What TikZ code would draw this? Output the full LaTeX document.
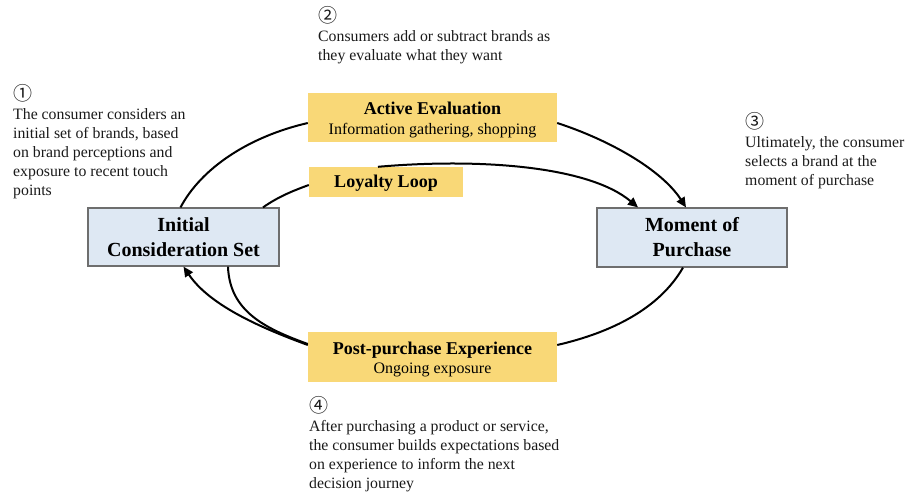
\documentclass[tikz,border=0pt]{standalone}
\usepackage{fontspec}
\setmainfont{Liberation Serif}
\newfontfamily\circfont{Noto Sans CJK JP}
\usetikzlibrary{arrows.meta}
\definecolor{boxblue}{HTML}{DEE8F3}
\definecolor{boxline}{HTML}{6E6E6E}
\definecolor{stageyellow}{HTML}{F9D877}
\definecolor{txt}{HTML}{1A1A1A}
\newcommand{\circnum}[1]{{\circfont\fontsize{19}{19}\selectfont #1}}
\begin{document}
\begin{tikzpicture}[x=1pt,y=1pt,
  keybox/.style={draw=boxline, line width=1.2pt, fill=boxblue, inner sep=0pt, align=center,
    font=\bfseries\fontsize{20}{25}\selectfont, text=black},
  stagebox/.style={fill=stageyellow, inner sep=0pt, align=center, text=black,
    font=\fontsize{16}{20}\selectfont},
  note/.style={anchor=north west, inner sep=0pt, align=left, text=txt,
    font=\fontsize{15.8}{19}\selectfont},
  flow/.style={line width=2pt, draw=black},
  flowarrow/.style={flow, -{Triangle[length=10pt,width=9pt]}},
]
\fill[white] (0,0) rectangle (908,-492);
\useasboundingbox (0,0) rectangle (908,-492);

% main boxes
\node[keybox, minimum width=191pt, minimum height=58pt] (init) at (183.5,-237) {Initial\\Consideration Set};
\node[keybox, minimum width=190pt, minimum height=59pt] (moment) at (692,-237.5) {Moment of\\Purchase};

% stage boxes
\node[stagebox, minimum width=249pt, minimum height=49pt] (active) at (432.5,-117.5)
  {\rule{0pt}{16.5pt}{\fontsize{18}{20}\selectfont\bfseries Active Evaluation}\\Information gathering, shopping};
\node[stagebox, minimum width=154pt, minimum height=30pt] (loyal) at (386,-182)
  {\rule{0pt}{15pt}{\fontsize{18}{20}\selectfont\bfseries Loyalty Loop}};
\node[stagebox, minimum width=249pt, minimum height=50pt, font=\fontsize{16}{19.5}\selectfont] (post) at (432.5,-357)
  {\rule{0pt}{17pt}{\fontsize{18}{20}\selectfont\bfseries Post-purchase Experience}\\Ongoing exposure};

% connectors
\draw[flow] ([xshift=-3pt]init.north) .. controls +(62:45) and +(193:60) .. ([yshift=-5.5pt]active.west);
\draw[flowarrow] ([yshift=-5.5pt]active.east) .. controls +(-18:55) and +(123:45) .. ([xshift=-6pt]moment.north);
\draw[flow] ([xshift=79.5pt]init.north) .. controls +(35:18) and +(200:18) .. ([yshift=-3pt]loyal.west);
\draw[flowarrow] ([xshift=-8pt]loyal.north) .. controls +(5:100) and +(140:65) .. ([xshift=-54pt]moment.north);
\draw[flowarrow] ([yshift=12pt]post.west) .. controls +(160:55) and +(-56:45) .. (init.south);
\draw[flow] ([xshift=44.5pt]init.south) .. controls +(-88:45) and +(160:45) .. ([yshift=13pt]post.west);
\draw[flow] ([xshift=-9pt]moment.south) .. controls +(240:48) and +(13:55) .. ([yshift=12pt]post.east);

% notes
\node[note] (n1) at (13,-84.5) {\circnum{①}\\The consumer considers an\\initial set of brands, based\\on brand perceptions and\\exposure to recent touch\\points};
\node[note] (n2) at (318,-6.5) {\circnum{②}\\Consumers add or subtract brands as\\they evaluate what they want};
\node[note] (n3) at (745,-112.5) {\circnum{③}\\Ultimately, the consumer\\selects a brand at the\\moment of purchase};
\node[note] (n4) at (309,-396.5) {\circnum{④}\\After purchasing a product or service,\\the consumer builds expectations based\\on experience to inform the next\\decision journey};
\end{tikzpicture}
\end{document}
